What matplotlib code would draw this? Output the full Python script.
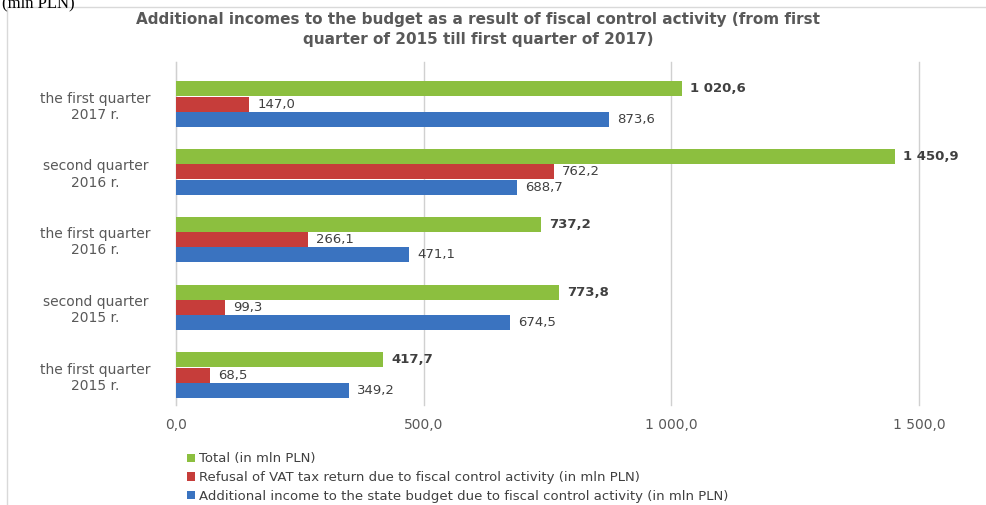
"""Additional incomes to the budget from fiscal control activity, 2015-2017."""
import matplotlib
matplotlib.use("Agg")
import matplotlib.pyplot as plt
from matplotlib.lines import Line2D
from matplotlib.patches import Patch

# bottom-to-top order (as drawn on the y axis)
categories = [
    "the first quarter\n2015 r.",
    "second quarter\n2015 r.",
    "the first quarter\n2016 r.",
    "second quarter\n2016 r.",
    "the first quarter\n2017 r.",
]
total = [417.7, 773.8, 737.2, 1450.9, 1020.6]
refusal = [68.5, 99.3, 266.1, 762.2, 147.0]
additional = [349.2, 674.5, 471.1, 688.7, 873.6]
x_ticks = [0, 500, 1000, 1500]

series_names = [
    "Total (in mln PLN)",
    "Refusal of VAT tax return due to fiscal control activity (in mln PLN)",
    "Additional income to the state budget due to fiscal control activity (in mln PLN)",
]
COLORS = ["#8cbf3f", "#c63d3a", "#3a73c0"]
TXT = "#404040"


def fmt(v):
    return f"{v:,.1f}".replace(",", " ").replace(".", ",")


fig = plt.figure(figsize=(9.86, 5.05), dpi=100)
ax = fig.add_axes([0.1785, 0.198, 0.7535, 0.679])

h = 0.22
ys = list(range(len(categories)))
offsets = [h + 0.005, 0.0, -(h + 0.005)]
for vals, off, col, bold in zip((total, refusal, additional), offsets, COLORS,
                                 (True, False, False)):
    pos = [y + off for y in ys]
    ax.barh(pos, vals, height=h, color=col, edgecolor="none", zorder=3)
    for p, v in zip(pos, vals):
        ax.annotate(fmt(v), (v, p), xytext=(6, 0), textcoords="offset points",
                    va="center", ha="left", fontsize=9.5, color=TXT,
                    fontweight="bold" if bold else "normal")

ax.set_xlim(0, 1500)
ax.set_ylim(-0.44, 4.62)
ax.set_xticks(x_ticks)
ax.set_xticklabels([fmt(t) for t in x_ticks], fontsize=10, color="#595959")
ax.set_yticks(ys)
ax.set_yticklabels(categories, fontsize=10, color="#595959", multialignment="center")
for lab in ax.get_yticklabels():
    lab.set_horizontalalignment("center")
ax.tick_params(axis="y", length=0, pad=58)
ax.tick_params(axis="x", length=0, pad=9)
ax.grid(axis="x", color="#d0d0d0", lw=1, zorder=0)
for gl in ax.get_xgridlines():
    gl.set_clip_on(False)
for s in ("top", "right", "bottom"):
    ax.spines[s].set_visible(False)
ax.spines["left"].set_color("#d0d0d0")

fig.text(0.485, 0.977, "Additional incomes to the budget as a result of fiscal control activity (from first\n"
         "quarter of 2015 till first quarter of 2017)",
         ha="center", va="top", fontsize=11, fontweight="bold", color="#595959",
         linespacing=1.45)

fig.text(0.002, 1 - 3 / 505, "(mln PLN)", ha="left", va="center", fontsize=12,
         family="Liberation Serif", color="black")

# chart frame (top and left edges)
fig.add_artist(Line2D([7 / 986, 1.0], [1 - 7 / 505, 1 - 7 / 505], color="#d9d9d9", lw=1))
fig.add_artist(Line2D([7 / 986, 7 / 986], [0, 1 - 7 / 505], color="#d9d9d9", lw=1))

handles = [Patch(facecolor=c, edgecolor="none") for c in COLORS]
leg = fig.legend(handles, series_names, loc="upper left", bbox_to_anchor=(0.19, 0.104),
                 frameon=False, fontsize=9.5, handlelength=0.6, handleheight=0.6,
                 handletextpad=0.3, labelspacing=0.42, borderaxespad=0, borderpad=0)
for t in leg.get_texts():
    t.set_color(TXT)

fig.savefig("out.png", dpi=100)
